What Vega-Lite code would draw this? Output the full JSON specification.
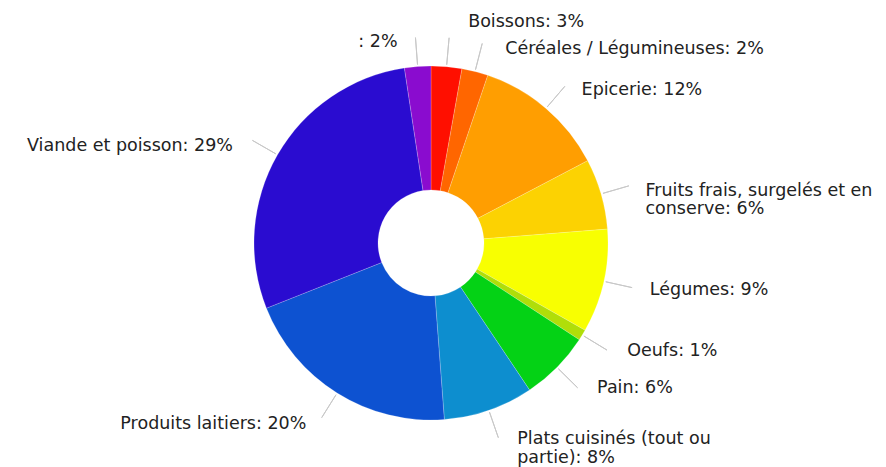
{
  "$schema": "https://vega.github.io/schema/vega-lite/v6.json",
  "autosize": "none",
  "width": 862,
  "height": 448,
  "padding": {"left": 0, "top": 19, "right": 24, "bottom": 0},
  "background": "white",
  "config": {"view": {"stroke": null}, "text": {"font": "DejaVu Sans", "fontSize": 17.5, "color": "#222", "lineHeight": 18.5}},
  "data": {
    "values": [
      {"i": 1, "cat": "Boissons", "v": 2.8, "label": "Boissons: 3%"},
      {"i": 2, "cat": "Céréales / Légumineuses", "v": 2.4, "label": "Céréales / Légumineuses: 2%"},
      {"i": 3, "cat": "Epicerie", "v": 12.1, "label": "Epicerie: 12%"},
      {"i": 4, "cat": "Fruits frais, surgelés et en conserve", "v": 6.45, "label": "Fruits frais, surgelés et en\nconserve: 6%"},
      {"i": 5, "cat": "Légumes", "v": 9.45, "label": "Légumes: 9%"},
      {"i": 6, "cat": "Oeufs", "v": 1.0, "label": "Oeufs: 1%"},
      {"i": 7, "cat": "Pain", "v": 6.4, "label": "Pain: 6%"},
      {"i": 8, "cat": "Plats cuisinés (tout ou partie)", "v": 8.2, "label": "Plats cuisinés (tout ou\npartie): 8%"},
      {"i": 9, "cat": "Produits laitiers", "v": 20.2, "label": "Produits laitiers: 20%"},
      {"i": 10, "cat": "Viande et poisson", "v": 28.6, "label": "Viande et poisson: 29%"},
      {"i": 11, "cat": "(sans nom)", "v": 2.4, "label": ": 2%"}
    ]
  },
  "encoding": {
    "theta": {"field": "v", "type": "quantitative", "stack": true, "scale": {"domain": [0, 100]}},
    "order": {"field": "i", "type": "quantitative"}
  },
  "layer": [
    {
      "mark": {"type": "arc", "innerRadius": 53, "outerRadius": 177, "stroke": "#ffffff", "strokeWidth": 0.5, "strokeOpacity": 0.4},
      "encoding": {
        "color": {
          "field": "cat", "type": "nominal", "legend": null,
          "scale": {
            "domain": ["Boissons", "Céréales / Légumineuses", "Epicerie", "Fruits frais, surgelés et en conserve", "Légumes", "Oeufs", "Pain", "Plats cuisinés (tout ou partie)", "Produits laitiers", "Viande et poisson", "(sans nom)"],
            "range": ["#FF0F00", "#FF6600", "#FF9E01", "#FCD202", "#F8FF01", "#B0DE09", "#04D215", "#0D8ECF", "#0D52D1", "#2A0CD0", "#8A0CCF"]
          }
        }
      }
    },
    {
      "mark": {"type": "arc", "innerRadius": 179, "outerRadius": 206, "padAngle": 3, "fillOpacity": 0, "stroke": "#c8c8c8", "strokeWidth": 1},
      "encoding": {}
    },
    {
      "mark": {"type": "text", "align": "left", "baseline": "middle", "radius": 218, "dx": 9, "dy": 13},
      "encoding": {"text": {"condition": {"test": "datum.cat === 'Epicerie'", "field": "label"}, "value": ""}}
    },
    {
      "mark": {"type": "text", "align": "left", "baseline": "middle", "radius": 218, "dx": 5, "dy": 8, "lineBreak": "\n"},
      "encoding": {"text": {"condition": {"test": "datum.cat === 'Fruits frais, surgelés et en conserve'", "field": "label"}, "value": ""}}
    },
    {
      "mark": {"type": "text", "align": "left", "baseline": "middle", "radius": 218, "dx": 6, "dy": 0},
      "encoding": {"text": {"condition": {"test": "datum.cat === 'Légumes'", "field": "label"}, "value": ""}}
    },
    {
      "mark": {"type": "text", "align": "left", "baseline": "middle", "radius": 218, "dx": 10, "dy": -5},
      "encoding": {"text": {"condition": {"test": "datum.cat === 'Oeufs'", "field": "label"}, "value": ""}}
    },
    {
      "mark": {"type": "text", "align": "left", "baseline": "middle", "radius": 218, "dx": 11, "dy": -8},
      "encoding": {"text": {"condition": {"test": "datum.cat === 'Pain'", "field": "label"}, "value": ""}}
    },
    {
      "mark": {"type": "text", "align": "left", "baseline": "middle", "radius": 218, "dx": 15, "dy": -10, "lineBreak": "\n"},
      "encoding": {"text": {"condition": {"test": "datum.cat === 'Plats cuisinés (tout ou partie)'", "field": "label"}, "value": ""}}
    },
    {
      "mark": {"type": "text", "align": "left", "baseline": "middle", "radius": 218, "dx": 18, "dy": -4},
      "encoding": {"text": {"condition": {"test": "datum.cat === 'Boissons'", "field": "label"}, "value": ""}}
    },
    {
      "mark": {"type": "text", "align": "left", "baseline": "middle", "radius": 218, "dx": 20, "dy": 17},
      "encoding": {"text": {"condition": {"test": "datum.cat === 'Céréales / Légumineuses'", "field": "label"}, "value": ""}}
    },
    {
      "mark": {"type": "text", "align": "right", "baseline": "middle", "radius": 218, "dx": -9, "dy": -4},
      "encoding": {"text": {"condition": {"test": "datum.cat === 'Produits laitiers'", "field": "label"}, "value": ""}}
    },
    {
      "mark": {"type": "text", "align": "right", "baseline": "middle", "radius": 218, "dx": -9, "dy": 12},
      "encoding": {"text": {"condition": {"test": "datum.cat === 'Viande et poisson'", "field": "label"}, "value": ""}}
    },
    {
      "mark": {"type": "text", "align": "right", "baseline": "middle", "radius": 218, "dx": -17, "dy": 16},
      "encoding": {"text": {"condition": {"test": "datum.cat === '(sans nom)'", "field": "label"}, "value": ""}}
    }
  ]
}
